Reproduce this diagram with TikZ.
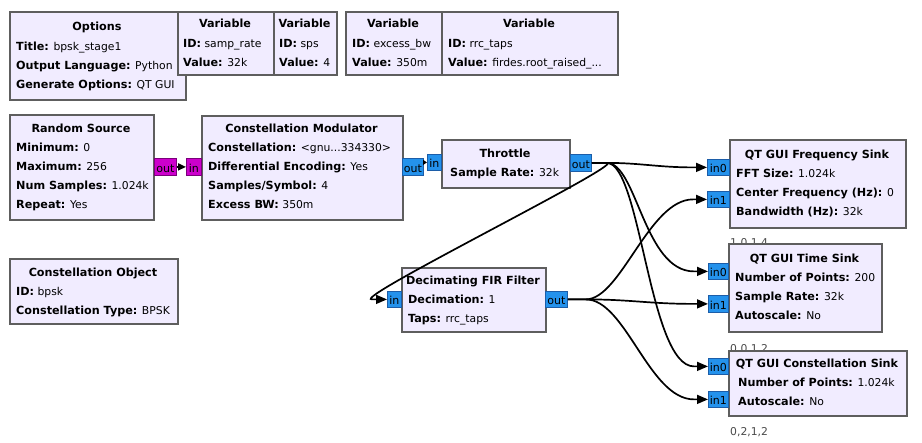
\documentclass[tikz,border=0pt]{standalone}
\usepackage{fontspec}
\setmainfont{DejaVu Sans}
\usetikzlibrary{arrows.meta}
\definecolor{boxfill}{HTML}{F1ECFF}
\definecolor{boxline}{HTML}{5E5E5E}
\definecolor{portblue}{HTML}{2492EC}
\definecolor{portblueline}{HTML}{1C5DA8}
\definecolor{portmag}{HTML}{CC00CC}
\definecolor{portmagline}{HTML}{7A007A}
\definecolor{lbl}{HTML}{4A4A4A}
\newcommand{\kfont}{\fontsize{11.2}{13}\selectfont\bfseries}
\newcommand{\vfont}{\fontsize{10.8}{13}\selectfont}
\newcommand{\blkkv}[2]{{\kfont #1} #2}
\tikzset{
  blk/.style={draw=boxline, line width=2pt, fill=boxfill, anchor=north west, inner sep=0pt},
  ttl/.style={font=\kfont, anchor=base, inner sep=0pt},
  kvs/.style={font=\vfont, anchor=base west, inner sep=0pt},
  portb/.style={draw=portblueline, fill=portblue, line width=0.8pt, anchor=north west,
    inner sep=0pt, font=\fontsize{11}{12}\selectfont, text height=11pt, text depth=0pt},
  portm/.style={portb, draw=portmagline, fill=portmag},
  wire/.style={line width=1.7pt, -{Triangle[length=11pt,width=9pt]}},
  shortwire/.style={line width=1.7pt, -{Triangle[length=8pt,width=7pt]}},
  tinywire/.style={line width=1.5pt, -{Triangle[length=4pt,width=5pt]}},
  idx/.style={font=\fontsize{10.8}{12}\selectfont, text=lbl, anchor=base west, inner sep=0pt}
}
\begin{document}
\begin{tikzpicture}[x=1pt,y=-1pt]
\useasboundingbox (0,0) rectangle (922,443);
\fill[white] (0,0) rectangle (922,443);

% Options
\node[blk, minimum width=176pt, minimum height=88pt] (opt) at (9,11) {};
\node[ttl] (opt-t) at (97,31) {Options};
\node[kvs] (opt-1) at (16,51) {\blkkv{Title:}{bpsk\_stage1}};
\node[kvs] (opt-2) at (16,70) {\blkkv{Output Language:}{Python}};
\node[kvs] (opt-3) at (16,89) {\blkkv{Generate Options:}{QT GUI}};

% Variables
\node[blk, minimum width=96pt, minimum height=63pt] (v1) at (177,11) {};
\node[ttl] (v1-t) at (225,28) {Variable};
\node[kvs] (v1-1) at (183,48) {\blkkv{ID:}{samp\_rate}};
\node[kvs] (v1-2) at (183,67) {\blkkv{Value:}{32k}};

\node[blk, minimum width=63pt, minimum height=63pt] (v2) at (273,11) {};
\node[ttl] (v2-t) at (304.5,28) {Variable};
\node[kvs] (v2-1) at (279,48) {\blkkv{ID:}{sps}};
\node[kvs] (v2-2) at (279,67) {\blkkv{Value:}{4}};

\node[blk, minimum width=96pt, minimum height=63pt] (v3) at (345,11) {};
\node[ttl] (v3-t) at (393,28) {Variable};
\node[kvs] (v3-1) at (352,48) {\blkkv{ID:}{excess\_bw}};
\node[kvs] (v3-2) at (352,67) {\blkkv{Value:}{350m}};

\node[blk, minimum width=176pt, minimum height=63pt] (v4) at (441,11) {};
\node[ttl] (v4-t) at (529,28) {Variable};
\node[kvs] (v4-1) at (448,48) {\blkkv{ID:}{rrc\_taps}};
\node[kvs] (v4-2) at (448,67) {\blkkv{Value:}{firdes.root\_raised\_...}};

% Random Source
\node[blk, minimum width=144pt, minimum height=105pt] (rs) at (9,114) {};
\node[ttl] (rs-t) at (81,133) {Random Source};
\node[kvs] (rs-1) at (16,152) {\blkkv{Minimum:}{0}};
\node[kvs] (rs-2) at (16,171) {\blkkv{Maximum:}{256}};
\node[kvs] (rs-3) at (16,190) {\blkkv{Num Samples:}{1.024k}};
\node[kvs] (rs-4) at (16,209) {\blkkv{Repeat:}{Yes}};

% Constellation Modulator
\node[blk, minimum width=201pt, minimum height=104pt] (cm) at (201,115) {};
\node[ttl] (cm-t) at (301.5,133) {Constellation Modulator};
\node[kvs] (cm-1) at (208,152) {\blkkv{Constellation:}{<gnu...334330>}};
\node[kvs] (cm-2) at (208,171) {\blkkv{Differential Encoding:}{Yes}};
\node[kvs] (cm-3) at (208,190) {\blkkv{Samples/Symbol:}{4}};
\node[kvs] (cm-4) at (208,209) {\blkkv{Excess BW:}{350m}};

% Throttle
\node[blk, minimum width=128pt, minimum height=48pt] (th) at (441,139) {};
\node[ttl] (th-t) at (505,158) {Throttle};
\node[kvs] (th-1) at (450,177) {\blkkv{Sample Rate:}{32k}};

% QT GUI Frequency Sink
\node[blk, minimum width=176pt, minimum height=88pt] (fs) at (729,139) {};
\node[ttl] (fs-t) at (817,159) {QT GUI Frequency Sink};
\node[kvs] (fs-1) at (736,178) {\blkkv{FFT Size:}{1.024k}};
\node[kvs] (fs-2) at (736,197) {\blkkv{Center Frequency (Hz):}{0}};
\node[kvs] (fs-3) at (736,216) {\blkkv{Bandwidth (Hz):}{32k}};

% Constellation Object
\node[blk, minimum width=168pt, minimum height=65pt] (co) at (9,258) {};
\node[ttl] (co-t) at (93,277) {Constellation Object};
\node[kvs] (co-1) at (16,296) {\blkkv{ID:}{bpsk}};
\node[kvs] (co-2) at (16,315) {\blkkv{Constellation Type:}{BPSK}};

% Decimating FIR Filter
\node[blk, minimum width=144pt, minimum height=64pt] (df) at (401,267) {};
\node[ttl] (df-t) at (473,285) {Decimating FIR Filter};
\node[kvs] (df-1) at (408,304) {\blkkv{Decimation:}{1}};
\node[kvs] (df-2) at (408,323) {\blkkv{Taps:}{rrc\_taps}};

% index labels (partly under the sinks)
\node[idx] (lab1) at (730,247) {1,0,1,4};
\node[idx] (lab2) at (730,353) {0,0,1,2};
\node[idx] (lab3) at (730,436) {0,2,1,2};

% QT GUI Time Sink
\node[blk, minimum width=153pt, minimum height=88pt] (ts) at (728,243) {};
\node[ttl] (ts-t) at (804.5,263) {QT GUI Time Sink};
\node[kvs] (ts-1) at (735,282) {\blkkv{Number of Points:}{200}};
\node[kvs] (ts-2) at (735,301) {\blkkv{Sample Rate:}{32k}};
\node[kvs] (ts-3) at (735,320) {\blkkv{Autoscale:}{No}};

% QT GUI Constellation Sink
\node[blk, minimum width=178pt, minimum height=65pt] (cs) at (728,350) {};
\node[ttl] (cs-t) at (817,368) {QT GUI Constellation Sink};
\node[kvs] (cs-1) at (738,387) {\blkkv{Number of Points:}{1.024k}};
\node[kvs] (cs-2) at (738,406) {\blkkv{Autoscale:}{No}};

% Ports
\node[portm, minimum width=22pt, minimum height=17pt] (rs-out) at (154,158) {out};
\node[portm, minimum width=15pt, minimum height=17pt] (cm-in) at (186,158) {in};
\node[portb, minimum width=21pt, minimum height=17pt] (cm-out) at (402,158) {out};
\node[portb, minimum width=14pt, minimum height=16pt] (th-in) at (427,154) {in};
\node[portb, minimum width=21pt, minimum height=17pt] (th-out) at (570,154) {out};
\node[portb, minimum width=22pt, minimum height=16pt] (fs-in0) at (707,159) {in0};
\node[portb, minimum width=22pt, minimum height=16pt] (fs-in1) at (707,191) {in1};
\node[portb, minimum width=20pt, minimum height=16pt] (ts-in0) at (708,263) {in0};
\node[portb, minimum width=20pt, minimum height=17pt] (ts-in1) at (708,295) {in1};
\node[portb, minimum width=20pt, minimum height=16pt] (cs-in0) at (708,358) {in0};
\node[portb, minimum width=20pt, minimum height=16pt] (cs-in1) at (708,391) {in1};
\node[portb, minimum width=14pt, minimum height=16pt] (df-in) at (387,291) {in};
\node[portb, minimum width=22pt, minimum height=16pt] (df-out) at (545,291) {out};

% bend coordinates
\coordinate (thb) at ([xshift=15pt]th-out.east);
\coordinate (dfb) at ([xshift=18pt]df-out.east);
\coordinate (fs0a) at ([xshift=-14pt]fs-in0.west);
\coordinate (fs1a) at ([xshift=-14pt]fs-in1.west);
\coordinate (ts0a) at ([xshift=-14pt]ts-in0.west);
\coordinate (ts1a) at ([xshift=-14pt]ts-in1.west);
\coordinate (cs0a) at ([xshift=-14pt]cs-in0.west);
\coordinate (cs1a) at ([xshift=-14pt]cs-in1.west);
\coordinate (dfa) at ([xshift=-15pt]df-in.west);

% Connections
\draw[shortwire] (rs-out.east) -- (cm-in.west);
\draw[tinywire] (cm-out.east |- th-in.west) -- (th-in.west);
\draw[wire] (th-out.east) -- (thb) .. controls +(34,0) and +(-35,0) .. (fs0a) -- (fs-in0.west);
\draw[wire] (th-out.east) -- (thb) .. controls +(30,0) and +(-50,0) .. (ts0a) -- (ts-in0.west);
\draw[wire] (th-out.east) -- (thb) .. controls +(34,0) and +(-45,0) .. (cs0a) -- (cs-in0.west);
\draw[wire] (th-out.east) -- (thb) .. controls +(20,0) and +(-22,0) .. (dfa) -- (df-in.west);
\draw[wire] (df-out.east) -- (dfb) .. controls +(35,0) and +(-44,0) .. (fs1a) -- (fs-in1.west);
\draw[wire] (df-out.east) -- (dfb) .. controls +(45,0) and +(-45,0) .. (ts1a) -- (ts-in1.west);
\draw[wire] (df-out.east) -- (dfb) .. controls +(40,0) and +(-45,0) .. (cs1a) -- (cs-in1.west);
\end{tikzpicture}
\end{document}
